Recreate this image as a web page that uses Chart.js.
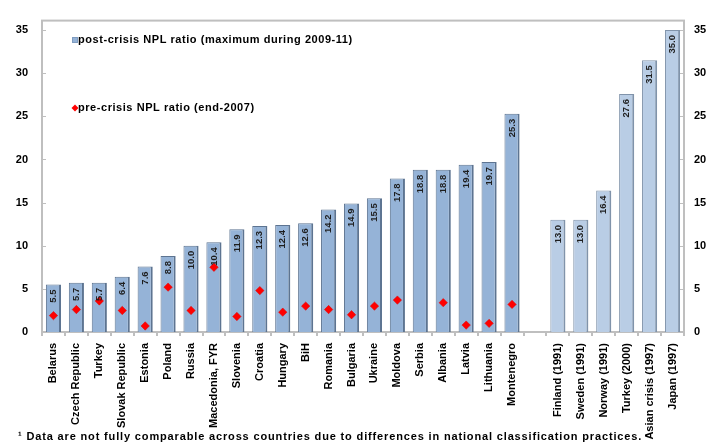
<!DOCTYPE html>
<html>
<head>
<meta charset="utf-8">
<script src="https://cdn.jsdelivr.net/npm/chart.js@4/dist/chart.umd.min.js"></script>
<style>
  html, body { margin: 0; padding: 0; background: #fff; }
  #wrap { position: relative; width: 712px; height: 443px; }
</style>
</head>
<body>
<div id="wrap"><canvas id="c" width="712" height="443"></canvas></div>
<script>
// Countries (maximum NPL ratio 2009-11) followed by historical banking crises
const categories = [
  'Belarus', 'Czech Republic', 'Turkey', 'Slovak Republic', 'Estonia', 'Poland',
  'Russia', 'Macedonia, FYR', 'Slovenia', 'Croatia', 'Hungary', 'BiH', 'Romania',
  'Bulgaria', 'Ukraine', 'Moldova', 'Serbia', 'Albania', 'Latvia', 'Lithuania',
  'Montenegro', '',
  'Finland (1991)', 'Sweden (1991)', 'Norway (1991)', 'Turkey (2000)',
  'Asian crisis (1997)', 'Japan (1997)'
];

const postCrisis = [
  5.5, 5.7, 5.7, 6.4, 7.6, 8.8, 10.0, 10.4, 11.9, 12.3, 12.4, 12.6, 14.2,
  14.9, 15.5, 17.8, 18.8, 18.8, 19.4, 19.7, 25.3, null,
  13.0, 13.0, 16.4, 27.6, 31.5, 35.0
];

const preCrisis = [
  1.9, 2.6, 3.6, 2.5, 0.7, 5.2, 2.5, 7.5, 1.8, 4.8, 2.3, 3.0, 2.6,
  2.0, 3.0, 3.7, null, 3.4, 0.8, 1.0, 3.2, null,
  null, null, null, null, null, null
];

const yTicks = [0, 5, 10, 15, 20, 25, 30, 35];

const seriesNames = [
  'post-crisis NPL ratio (maximum during 2009-11)',
  'pre-crisis NPL ratio (end-2007)'
];

const footnote = '\u00B9 Data are not fully comparable across countries due to differences in national classification practices.';

const firstHistorical = categories.indexOf('Finland (1991)');
const barFill = categories.map((_, i) => i >= firstHistorical ? '#B9CDE5' : '#95B3D7');
const barEdge = categories.map((_, i) => i >= firstHistorical ? '#8093AA' : '#5D7491');

const FONT = '"Liberation Sans", Arial, sans-serif';
const FRAME = '#BFBFBF';

// Rotated value labels inside the top of each bar
const valueLabels = {
  id: 'valueLabels',
  afterDatasetsDraw(chart) {
    const ctx = chart.ctx;
    const barIndex = chart.data.datasets.findIndex(d => d.type === 'bar');
    const meta = chart.getDatasetMeta(barIndex);
    ctx.save();
    ctx.font = 'bold 9.5px ' + FONT;
    ctx.fillStyle = '#1E1E1E';
    ctx.textAlign = 'right';
    ctx.textBaseline = 'middle';
    meta.data.forEach((bar, i) => {
      const v = postCrisis[i];
      if (v === null) return;
      ctx.save();
      ctx.translate(bar.x, bar.y + 5);
      ctx.rotate(-Math.PI / 2);
      ctx.fillText(v.toFixed(1), 0, 0);
      ctx.restore();
    });
    ctx.restore();
  }
};

// Plot frame, inward tick marks on both value axes, in-plot legend and footnote
const decorations = {
  id: 'decorations',
  beforeDatasetsDraw(chart) {
    const { ctx, chartArea: a } = chart;
    const y = chart.scales.y;
    ctx.save();
    ctx.strokeStyle = FRAME;
    ctx.lineWidth = 2;
    ctx.strokeRect(a.left, a.top, a.right - a.left, a.bottom - a.top);
    ctx.lineWidth = 1;
    yTicks.forEach(t => {
      const py = Math.round(y.getPixelForValue(t)) + 0.5;
      ctx.beginPath();
      ctx.moveTo(a.left, py); ctx.lineTo(a.left + 4, py);
      ctx.moveTo(a.right, py); ctx.lineTo(a.right - 4, py);
      ctx.stroke();
    });
    ctx.restore();
  },
  afterDraw(chart) {
    const { ctx, chartArea: a } = chart;
    ctx.save();
    ctx.font = 'bold 11px ' + FONT;
    ctx.fillStyle = '#000';
    ctx.textBaseline = 'middle';
    ctx.textAlign = 'left';
    ctx.letterSpacing = '0.55px';
    // legend entry 1: bar swatch
    const lx = a.left + 30;
    ctx.fillStyle = '#95B3D7';
    ctx.fillRect(lx, 37, 6, 6);
    ctx.strokeStyle = '#7F9CC0';
    ctx.lineWidth = 1;
    ctx.strokeRect(lx + 0.5, 37.5, 5, 5);
    ctx.fillStyle = '#000';
    ctx.fillText(seriesNames[0], lx + 6, 40);
    // legend entry 2: diamond marker
    const dx = lx + 3, dy = 108;
    ctx.fillStyle = '#FF0000';
    ctx.beginPath();
    ctx.moveTo(dx, dy - 3.5); ctx.lineTo(dx + 3.5, dy);
    ctx.lineTo(dx, dy + 3.5); ctx.lineTo(dx - 3.5, dy);
    ctx.closePath(); ctx.fill();
    ctx.fillStyle = '#000';
    ctx.fillText(seriesNames[1], lx + 6, dy);
    // footnote
    ctx.font = 'bold 11px ' + FONT;
    ctx.letterSpacing = '0.85px';
    ctx.fillText(footnote, 18, 437);
    ctx.restore();
  }
};

const tickFont = { family: FONT, size: 11, weight: 'bold' };

new Chart(document.getElementById('c'), {
  data: {
    labels: categories,
    datasets: [
      {
        type: 'line',
        label: seriesNames[1],
        data: preCrisis,
        showLine: false,
        pointStyle: 'rectRot',
        pointRadius: 4.2,
        pointHoverRadius: 4.2,
        pointBackgroundColor: '#FF0000',
        pointBorderColor: '#E00000',
        pointBorderWidth: 0.5,
        order: 0
      },
      {
        type: 'bar',
        label: seriesNames[0],
        data: postCrisis,
        backgroundColor: barFill,
        borderColor: barEdge,
        borderWidth: { left: 1, right: 2, top: 1, bottom: 0 },
        borderSkipped: 'start',
        categoryPercentage: 1,
        barPercentage: 0.66,
        order: 1
      }
    ]
  },
  options: {
    responsive: false,
    animation: false,
    devicePixelRatio: 1,
    layout: { padding: { top: 3, left: 0, right: 0, bottom: 0 } },
    plugins: {
      legend: { display: false },
      tooltip: { enabled: false }
    },
    scales: {
      x: {
        type: 'category',
        offset: true,
        border: { display: false },
        grid: {
          display: true,
          drawOnChartArea: false,
          offset: true,
          tickLength: 4,
          color: FRAME,
          lineWidth: 2
        },
        ticks: {
          autoSkip: false,
          maxRotation: 90,
          minRotation: 90,
          padding: 7,
          color: '#000',
          font: tickFont
        },
        afterFit(scale) { scale.height = 111; }
      },
      y: {
        position: 'left',
        min: 0,
        max: 36.1,
        border: { display: false },
        grid: { display: false, drawTicks: false, tickLength: 0 },
        afterBuildTicks(scale) { scale.ticks = yTicks.map(v => ({ value: v })); },
        ticks: { padding: 14, color: '#000', font: tickFont },
        afterFit(scale) { scale.width = 42; }
      },
      y2: {
        position: 'right',
        min: 0,
        max: 36.1,
        border: { display: false },
        grid: { display: false, drawTicks: false, tickLength: 0 },
        afterBuildTicks(scale) { scale.ticks = yTicks.map(v => ({ value: v })); },
        ticks: { padding: 10, color: '#000', font: tickFont },
        afterFit(scale) { scale.width = 28; }
      }
    }
  },
  plugins: [decorations, valueLabels]
});
</script>
</body>
</html>
